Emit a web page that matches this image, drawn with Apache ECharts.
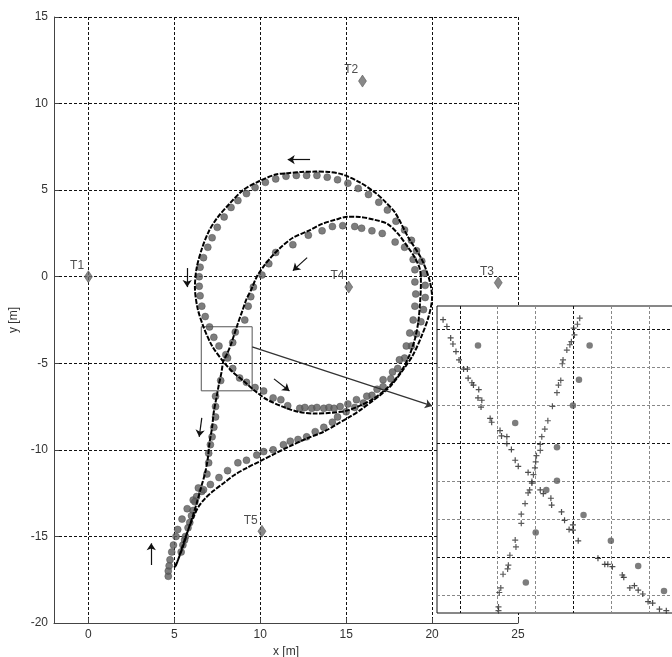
<!DOCTYPE html>
<html>
<head>
<meta charset="utf-8">
<script src="https://cdn.jsdelivr.net/npm/echarts@6/dist/echarts.min.js"></script>
<style>
  html, body { margin: 0; padding: 0; background: #fff; }
  #chart { width: 672px; height: 657px; }
</style>
</head>
<body>
<div id="chart"></div>
<script>
// main axes ticks
const xTicks = [0, 5, 10, 15, 20, 25];

// transmitters
const targets = [
  ['T1', 0, 0],
  ['T2', 15.95, 11.3],
  ['T3', 23.85, -0.35],
  ['T4', 15.15, -0.6],
  ['T5', 10.1, -14.7]
];

// dense "+" estimate track, in driving order
const plusTrack = [
  [5.0,-16.8],[5.2,-16.4],[5.4,-15.8],[5.6,-15.2],[5.85,-14.5],[6.1,-13.9],[6.4,-13.3],[6.8,-12.8],
  [7.3,-12.35],[7.9,-11.9],[8.5,-11.45],[9.2,-11.05],[10.0,-10.65],[10.8,-10.25],[11.7,-9.8],[12.7,-9.35],
  [13.7,-8.95],[14.5,-8.5],[15.2,-8.1],[15.9,-7.65],[16.5,-7.2],[17.1,-6.75],[17.6,-6.3],[18.3,-5.4],
  [18.9,-4.5],[19.4,-3.4],[19.8,-2.3],[20.0,-1.2],[19.85,-0.2],[19.4,1.0],[18.6,2.3],[17.85,3.7],
  [17.3,4.3],[16.7,4.85],[15.8,5.45],[14.8,5.9],[14.0,6.05],[13.2,6.07],[12.4,6.05],[11.6,5.98],
  [10.9,5.9],[9.9,5.5],[9.0,5.0],[8.2,4.2],[7.5,3.4],[7.0,2.6],[6.6,1.6],[6.3,0.5],[6.2,-0.6],
  [6.35,-1.8],[6.7,-2.9],[7.2,-4.0],[7.85,-4.9],[8.4,-5.5],[9.0,-6.0],[9.7,-6.6],[10.4,-7.1],
  [11.3,-7.5],[12.2,-7.8],[13.2,-7.9],[14.1,-7.86],[15.0,-7.75],[15.8,-7.45],[16.5,-7.1],[17.2,-6.6],
  [17.8,-6.0],[18.3,-5.3],[18.7,-4.5],[19.0,-3.6],[19.2,-2.6],[19.3,-1.5],[19.35,-0.4],[19.3,0.4],
  [19.0,1.1],[18.6,1.7],[18.0,2.5],[17.4,3.05],[16.6,3.3],[15.8,3.45],[15.1,3.47],[14.4,3.3],
  [13.6,3.05],[12.8,2.65],[11.9,2.25],[11.2,1.7],[10.7,1.2],[10.2,0.6],[9.8,0.0],[9.5,-0.7],
  [9.2,-1.3],[8.95,-2.0],[8.7,-2.7],[8.5,-3.3],[8.3,-3.9],[8.05,-4.5],[7.85,-4.9],[7.75,-5.5],
  [7.6,-6.2],[7.45,-7.0],[7.3,-7.8],[7.2,-8.7],[7.05,-9.6],[6.95,-10.5],[6.8,-11.3],[6.55,-12.2],
  [6.3,-13.1],[6.05,-13.9],[5.75,-14.8],[5.5,-15.6],[5.2,-16.4],[5.05,-16.8]
];

// sparse "o" estimate track
const circleTrack = [
  [4.65,-17.3],[4.65,-17.0],[4.7,-16.7],[4.75,-16.35],[4.85,-15.9],[4.95,-15.5],[5.1,-15.0],[5.2,-14.6],
  [5.45,-14.0],[5.75,-13.4],[6.1,-12.9],[6.6,-12.4],[7.1,-12.0],[7.6,-11.6],[8.1,-11.2],[8.7,-10.75],
  [9.2,-10.6],[9.8,-10.3],[10.2,-10.1],[10.75,-10.0],[11.35,-9.7],[11.75,-9.5],[12.2,-9.4],[12.7,-9.25],
  [13.2,-8.95],[13.7,-8.7],[14.2,-8.4],[14.5,-8.1],[15.0,-7.8],[15.5,-7.55],[16.0,-7.3],[16.5,-6.85],
  [17.15,-6.35],[17.6,-5.9],[18.0,-5.3],[18.4,-4.7],[18.8,-4.0],[19.1,-3.3],[19.35,-2.6],[19.5,-1.9],
  [19.6,-1.2],[19.6,-0.5],[19.55,0.2],[19.4,0.9],[19.1,1.5],[18.8,2.1],[18.4,2.7],[17.9,3.2],
  [17.4,3.85],[16.9,4.3],[16.3,4.75],[15.7,5.1],[15.1,5.4],[14.5,5.6],[13.9,5.75],[13.3,5.85],
  [12.7,5.85],[12.1,5.85],[11.5,5.8],[10.9,5.65],[10.3,5.45],[9.7,5.15],[9.2,4.8],[8.7,4.4],
  [8.3,4.0],[7.9,3.45],[7.5,2.85],[7.2,2.25],[6.95,1.7],[6.7,1.1],[6.5,0.55],[6.45,0.0],
  [6.45,-0.55],[6.5,-1.1],[6.6,-1.7],[6.8,-2.3],[7.05,-2.9],[7.3,-3.5],[7.6,-4.0],[8.0,-4.5],
  [8.4,-5.3],[8.8,-5.85],[9.2,-6.1],[9.7,-6.4],[10.2,-6.6],[10.75,-7.0],[11.2,-7.1],[11.6,-7.45],
  [12.3,-7.6],[12.6,-7.55],[13.0,-7.6],[13.3,-7.55],[13.7,-7.6],[14.0,-7.55],[14.3,-7.6],[14.65,-7.5],
  [15.1,-7.35],[15.6,-7.1],[16.2,-6.9],[16.8,-6.5],[17.15,-5.95],[17.7,-5.5],[18.1,-4.8],[18.5,-4.0],
  [18.7,-3.25],[18.9,-2.5],[19.0,-1.7],[19.05,-1.0],[19.0,-0.3],[19.0,0.4],[18.9,1.0],[18.4,1.7],
  [17.85,2.0],[17.1,2.5],[16.5,2.65],[15.9,2.8],[15.5,2.9],[14.8,2.95],[14.2,2.9],[13.6,2.65],
  [12.8,2.4],[11.9,1.85],[10.9,1.4],[10.5,0.75],[10.1,0.1],[9.6,-0.6],[9.45,-1.15],[9.3,-1.7],
  [9.1,-2.5],[8.55,-3.2],[8.4,-3.8],[8.1,-4.7],[7.7,-6.0],[7.4,-6.9],[7.4,-7.5],[7.4,-8.1],
  [7.3,-8.7],[7.2,-9.25],[7.1,-9.7],[7.0,-10.2],[7.0,-10.75],[6.9,-11.4],[6.7,-12.3],[6.4,-12.2],
  [6.3,-12.7],[6.2,-13.0],[6.1,-13.5],[6.0,-13.8],[5.9,-14.2],[5.8,-14.5],[5.65,-15.0],[5.6,-15.2],
  [5.5,-15.5],[5.4,-15.9]
];

// direction arrows [from, to]
const arrows = [
  [[12.9, 6.76], [11.6, 6.76]],
  [[5.75, 0.5], [5.75, -0.6]],
  [[12.73, 1.1], [11.9, 0.35]],
  [[10.8, -5.9], [11.7, -6.6]],
  [[6.6, -8.15], [6.45, -9.25]],
  [[3.66, -16.65], [3.66, -15.4]]
];

// zoom window and its pointer
const zoomBox = [[6.57, -2.89], [9.53, -6.59]];
const zoomArrow = [[9.53, -4.05], [20.0, -7.46]];

// inset (magnified window)
const insetXTicks = [6.9, 7.4, 7.9, 8.4, 8.9, 9.4];
const insetYTicks = [-2.9, -3.4, -3.9, -4.4, -4.9, -5.4, -5.9, -6.4];

const insetPlusA = [
  [6.68,-2.78],[6.73,-2.87],[6.78,-3.02],[6.81,-3.10],[6.85,-3.20],[6.89,-3.31],[6.95,-3.43],[7.00,-3.43],
  [7.01,-3.55],[7.06,-3.61],[7.08,-3.64],[7.15,-3.70],[7.14,-3.81],[7.19,-3.84],[7.18,-3.93],[7.30,-4.08],
  [7.32,-4.13],[7.43,-4.24],[7.45,-4.31],[7.52,-4.32],[7.52,-4.41],[7.58,-4.49],[7.63,-4.63],[7.67,-4.71],
  [7.80,-4.79],[7.85,-4.93],[7.96,-5.02],[8.00,-5.07],[8.10,-5.13],[8.11,-5.22],[8.24,-5.31],[8.28,-5.42],
  [8.34,-5.54],[8.39,-5.48],[8.39,-5.55],[8.46,-5.69],[8.72,-5.92],[8.81,-6.00],[8.85,-6.00],[8.91,-6.03],
  [9.04,-6.14],[9.06,-6.17],[9.14,-6.31],[9.20,-6.28],[9.25,-6.34],[9.31,-6.39],[9.38,-6.49],[9.44,-6.51],
  [9.53,-6.59],[9.62,-6.61]
];
const insetPlusB = [
  [8.48,-2.76],[8.45,-2.84],[8.40,-2.89],[8.41,-2.98],[8.37,-3.07],[8.35,-3.11],[8.31,-3.18],[8.26,-3.31],
  [8.25,-3.36],[8.23,-3.58],[8.20,-3.64],[8.18,-3.74],[8.12,-3.92],[8.06,-4.11],[8.02,-4.22],[7.98,-4.32],
  [7.96,-4.42],[7.96,-4.50],[7.91,-4.57],[7.90,-4.65],[7.89,-4.73],[7.87,-4.82],[7.85,-4.91],[7.82,-5.02],
  [7.80,-5.06],[7.76,-5.20],[7.71,-5.34],[7.71,-5.46],[7.63,-5.68],[7.64,-5.77],[7.56,-5.88],[7.54,-6.01],
  [7.53,-6.06],[7.47,-6.13],[7.44,-6.31],[7.42,-6.37],[7.41,-6.56],[7.41,-6.61]
];
const insetCircles = [
  [7.14,-3.12],[7.63,-4.14],[8.61,-3.12],[8.47,-3.57],[8.39,-3.91],[8.18,-4.46],[8.18,-4.90],[8.04,-5.02],
  [7.90,-5.58],[8.53,-5.35],[8.89,-5.69],[9.25,-6.02],[9.59,-6.35],[7.77,-6.24]
];

const FONT = 'Liberation Sans';
const plusSymbol = 'path://M4,0H6V4H10V6H6V10H4V6H0V4H4Z';

const chart = echarts.init(document.getElementById('chart'));

const arrowLines = arrows.map(a => [{ coord: a[0] }, { coord: a[1] }]);

chart.setOption({
  animation: false,
  backgroundColor: '#fff',
  grid: [
    { left: 54, right: 154, top: 17, bottom: 34, outerBoundsMode: 'none' },
    { left: 437, top: 306, width: 246, height: 307, show: true, z: 10, outerBoundsMode: 'none',
      backgroundColor: '#fff', borderColor: '#111', borderWidth: 1 }
  ],
  xAxis: [
    {
      gridIndex: 0, type: 'value', min: -2, max: 25,
      name: 'x [m]', nameLocation: 'middle', nameGap: 23,
      nameTextStyle: { fontFamily: FONT, fontSize: 12, color: '#333' },
      axisLine: { show: true, onZero: false, lineStyle: { color: '#444', width: 1 } },
      axisTick: { show: true, inside: true, length: 5, customValues: xTicks, lineStyle: { color: '#444' } },
      axisLabel: { customValues: xTicks, fontFamily: FONT, fontSize: 12, color: '#333', margin: 6 },
      splitLine: { show: true, lineStyle: { color: '#111', type: [3, 2], width: 1 } }
    },
    {
      gridIndex: 1, type: 'value', min: 6.6, max: 9.84, z: 11,
      axisLine: { show: false }, axisLabel: { show: false },
      axisTick: { show: false, customValues: insetXTicks },
      splitLine: { show: true, lineStyle: { color: ['#111', '#888', '#888'], type: [3, 2], width: 1 } }
    }
  ],
  yAxis: [
    {
      gridIndex: 0, type: 'value', min: -20, max: 15, interval: 5,
      name: 'y [m]', nameLocation: 'middle', nameGap: 29, nameRotate: 90,
      nameTextStyle: { fontFamily: FONT, fontSize: 12, color: '#333' },
      axisLine: { show: true, onZero: false, lineStyle: { color: '#444', width: 1 } },
      axisTick: { show: true, inside: true, length: 5, lineStyle: { color: '#444' } },
      axisLabel: { fontFamily: FONT, fontSize: 12, color: '#333', margin: 6 },
      splitLine: { show: true, lineStyle: { color: '#111', type: [3, 2], width: 1 } }
    },
    {
      gridIndex: 1, type: 'value', min: -6.64, max: -2.6, z: 11,
      axisLine: { show: false }, axisLabel: { show: false },
      axisTick: { show: false, customValues: insetYTicks },
      splitLine: { show: true, lineStyle: { color: ['#111', '#888', '#888'], type: [3, 2], width: 1 } }
    }
  ],
  series: [
    {
      name: 'circles', type: 'scatter', xAxisIndex: 0, yAxisIndex: 0, z: 2,
      data: circleTrack, symbol: 'circle', symbolSize: 7,
      itemStyle: { color: '#5c5c5c', borderColor: '#444', borderWidth: 0.5 }
    },
    {
      name: 'plus', type: 'line', xAxisIndex: 0, yAxisIndex: 0, z: 3,
      data: plusTrack, smooth: 0.3, showSymbol: false,
      lineStyle: { color: '#000', width: 2, type: [5, 1.5] }
    },
    {
      name: 'targets', type: 'scatter', xAxisIndex: 0, yAxisIndex: 0, z: 4,
      data: targets.map(t => ({ name: t[0], value: [t[1], t[2]] })),
      symbol: 'diamond', symbolSize: [8, 12],
      itemStyle: { color: '#6a6a6a', borderColor: '#444', borderWidth: 0.6 },
      label: { show: true, position: 'left', distance: 0, offset: [0, -11],
        formatter: p => p.name, fontFamily: FONT, fontSize: 12, color: '#222' },
      markLine: {
        silent: true, symbol: ['none', 'arrow'], symbolSize: 7,
        label: { show: false },
        lineStyle: { color: '#111', type: 'solid', width: 1.2 },
        data: arrowLines.concat([[
          { coord: zoomArrow[0], symbolSize: 12, lineStyle: { color: '#333', width: 1.3 } },
          { coord: zoomArrow[1] }
        ]])
      },
      markArea: {
        silent: true,
        itemStyle: { color: 'rgba(0,0,0,0)', borderColor: '#555', borderWidth: 1 },
        data: [[{ coord: zoomBox[0] }, { coord: zoomBox[1] }]]
      }
    },
    {
      name: 'inset circles', type: 'scatter', xAxisIndex: 1, yAxisIndex: 1, z: 12,
      data: insetCircles, symbol: 'circle', symbolSize: 6.5,
      itemStyle: { color: '#5c5c5c' }
    },
    {
      name: 'inset plus a', type: 'scatter', xAxisIndex: 1, yAxisIndex: 1, z: 13,
      data: insetPlusA, symbol: plusSymbol, symbolSize: 6,
      itemStyle: { color: '#222' }
    },
    {
      name: 'inset plus b', type: 'scatter', xAxisIndex: 1, yAxisIndex: 1, z: 13,
      data: insetPlusB, symbol: plusSymbol, symbolSize: 6,
      itemStyle: { color: '#333' }
    }
  ]
});
</script>
</body>
</html>
